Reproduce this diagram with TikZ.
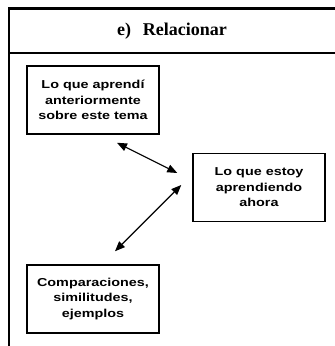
\documentclass[tikz,border=0pt]{standalone}
\usepackage{fontspec}
\setmainfont{Liberation Serif}
\newfontfamily\boxfont[FakeStretch=1.25]{Liberation Sans}
\usetikzlibrary{arrows.meta}
\begin{document}
\begin{tikzpicture}[x=1pt,y=1pt,
  caja/.style={draw,line width=1.5pt,minimum width=132pt,minimum height=68pt,align=center,
    font=\boxfont\bfseries\fontsize{11.5}{15.5}\selectfont},
  flecha/.style={{Triangle[length=10pt,width=8pt]}-{Triangle[length=10pt,width=8pt]},line width=1.1pt}]
  \useasboundingbox (0,0) rectangle (335,346);
  \clip (0,0) rectangle (335,346);
  \draw[line width=2.5pt] (9,-2) -- (9,337.5) -- (340,337.5);
  \draw[line width=1.5pt] (9,293) -- (340,293);
  \node[font=\bfseries\fontsize{18}{20}\selectfont] (titulo) at (172,315) {e)\hspace{12pt}Relacionar};
  \node[caja] (antes) at (93,246) {Lo que aprendí\\anteriormente\\sobre este tema};
  \node[caja] (ahora) at (259,158.5) {Lo que estoy\\aprendiendo\\ahora};
  \node[caja] (compara) at (93,47) {Comparaciones,\\similitudes,\\ejemplos};
  \draw[flecha] ([shift={(24,-8)}]antes.south) -- ([shift={(-15,14.5)}]ahora.west);
  \draw[flecha] ([shift={(-11,2.5)}]ahora.west) -- ([shift={(22,13)}]compara.north);
\end{tikzpicture}
\end{document}
